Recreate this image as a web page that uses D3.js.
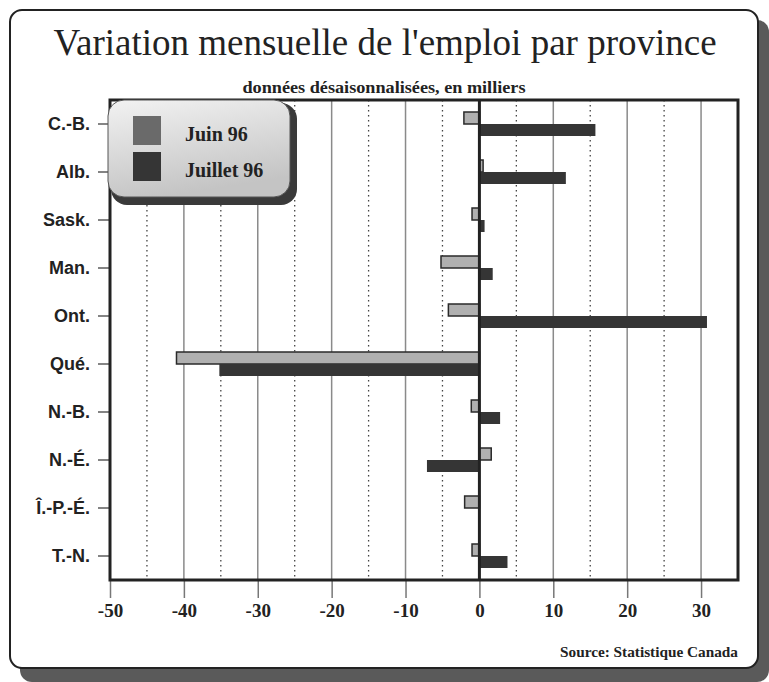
<!DOCTYPE html>
<html>
<head>
<meta charset="utf-8">
<script src="https://cdn.jsdelivr.net/npm/d3@7"></script>
<style>
  body { margin: 0; background: #fff; }
  svg text { fill: #222; }
</style>
</head>
<body>
<div id="chart"></div>
<script>
const provinces = ["C.-B.", "Alb.", "Sask.", "Man.", "Ont.", "Qué.", "N.-B.", "N.-É.", "Î.-P.-É.", "T.-N."];
const juin96 = [-2.1, 0.5, -1.0, -5.2, -4.2, -41.0, -1.1, 1.6, -2.0, -1.0];
const juillet96 = [15.7, 11.7, 0.7, 1.8, 30.8, -35.2, 2.8, -7.1, 0.0, 3.8];
const seriesNames = ["Juin 96", "Juillet 96"];
const xTicks = [-50, -40, -30, -20, -10, 0, 10, 20, 30];

const w = 769, h = 682;
const padL = 110, padR = 738, padT = 100, padB = 580;

const svg = d3.select("#chart").append("svg")
  .attr("width", w).attr("height", h);

const defs = svg.append("defs");
const lg = defs.append("linearGradient").attr("id", "legGrad")
  .attr("x1", 0).attr("y1", 0).attr("x2", 0.3).attr("y2", 1);
lg.append("stop").attr("offset", 0).attr("stop-color", "#f2f2f2");
lg.append("stop").attr("offset", 1).attr("stop-color", "#c4c4c4");

// outer frame with shadow
svg.append("rect").attr("x", 20).attr("y", 20).attr("width", 749).attr("height", 662)
  .attr("rx", 12).attr("fill", "#5a5a5a");
svg.append("rect").attr("x", 10).attr("y", 10).attr("width", 748).attr("height", 658)
  .attr("rx", 12).attr("fill", "#fff").attr("stroke", "#222").attr("stroke-width", 2);

svg.append("text").attr("x", 385).attr("y", 55)
  .attr("text-anchor", "middle")
  .style("font-family", "'Liberation Serif', 'Times New Roman', serif")
  .style("font-size", "37px")
  .text("Variation mensuelle de l'emploi par province");

svg.append("text").attr("x", 384).attr("y", 93)
  .attr("text-anchor", "middle")
  .attr("textLength", 283).attr("lengthAdjust", "spacingAndGlyphs")
  .style("font-family", "'Liberation Serif', 'Times New Roman', serif")
  .style("font-weight", "bold").style("font-size", "16px")
  .text("données désaisonnalisées, en milliers");

const x = d3.scaleLinear().domain([-50, 35]).range([padL, padR]);
const y = d3.scaleBand().domain(provinces).range([padT, padB]).paddingInner(0.5).paddingOuter(0.25);
const ySub = d3.scaleBand().domain(seriesNames).range([0, y.bandwidth()]);

// grid lines: solid at tens, dotted at fives
const grid = svg.append("g");
d3.range(-45, 35, 5).forEach(v => {
  if (v === 0) return;
  const solid = v % 10 === 0;
  grid.append("line")
    .attr("x1", x(v)).attr("x2", x(v)).attr("y1", padT).attr("y2", padB)
    .attr("stroke", solid ? "#8a8a8a" : "#444")
    .attr("stroke-width", solid ? 1.5 : 1.3)
    .attr("stroke-dasharray", solid ? null : "1.5,3.5");
});

// x axis below box
const xAxis = d3.axisBottom(x).tickValues(xTicks).tickSize(18).tickPadding(6).tickFormat(d => String(d));
const gx = svg.append("g").attr("transform", "translate(0," + padB + ")").call(xAxis);
gx.select(".domain").remove();
gx.selectAll(".tick line").attr("stroke", "#777").attr("stroke-width", 1.5);
gx.selectAll(".tick text")
  .style("font-family", "'Liberation Serif', 'Times New Roman', serif")
  .style("font-weight", "bold").style("font-size", "19px").attr("fill", "#222");

// y axis
const yAxis = d3.axisLeft(y).tickSize(12).tickPadding(8);
const gy = svg.append("g").attr("transform", "translate(" + padL + ",0)").call(yAxis);
gy.select(".domain").remove();
gy.selectAll(".tick line").attr("stroke", "#333").attr("stroke-width", 1.2);
gy.selectAll(".tick text")
  .style("font-family", "'Liberation Sans', Arial, sans-serif")
  .style("font-weight", "bold").style("font-size", "18px").attr("fill", "#222");

// bars
const rows = provinces.map((p, i) => ({ p, vals: [juin96[i], juillet96[i]] }));
const groups = svg.append("g").selectAll("g").data(rows).enter().append("g")
  .attr("transform", d => "translate(0," + y(d.p) + ")");

groups.selectAll("rect").data(d => d.vals.map((v, j) => ({ v, s: seriesNames[j] })))
  .enter().append("rect")
  .attr("x", d => x(Math.min(0, d.v)))
  .attr("y", d => ySub(d.s))
  .attr("width", d => Math.abs(x(d.v) - x(0)))
  .attr("height", ySub.bandwidth())
  .attr("fill", d => d.s === "Juin 96" ? "#b0b0b0" : "#353535")
  .attr("stroke", d => d.s === "Juin 96" ? "#2a2a2a" : "none")
  .attr("stroke-width", 1.5);

// zero line
svg.append("line").attr("x1", x(0)).attr("x2", x(0)).attr("y1", padT).attr("y2", padB)
  .attr("stroke", "#222").attr("stroke-width", 3);

// plot box
svg.append("rect").attr("x", padL).attr("y", padT).attr("width", padR - padL).attr("height", padB - padT)
  .attr("fill", "none").attr("stroke", "#222").attr("stroke-width", 3);

// legend
const leg = svg.append("g");
leg.append("rect").attr("x", 111).attr("y", 103).attr("width", 186).attr("height", 102)
  .attr("rx", 16).attr("fill", "#3a3a3a");
leg.append("rect").attr("x", 108).attr("y", 100).attr("width", 182).attr("height", 97)
  .attr("rx", 16).attr("fill", "url(#legGrad)").attr("stroke", "#555").attr("stroke-width", 1);
seriesNames.forEach((s, i) => {
  leg.append("rect").attr("x", 133).attr("y", 116 + i * 36).attr("width", 28).attr("height", 29)
    .attr("fill", i === 0 ? "#6a6a6a" : "#353535");
  leg.append("text").attr("x", 185).attr("y", 141 + i * 36)
    .style("font-family", "'Liberation Serif', 'Times New Roman', serif")
    .style("font-weight", "bold").style("font-size", "20px")
    .text(s);
});

svg.append("text").attr("x", 738).attr("y", 657)
  .attr("text-anchor", "end")
  .attr("textLength", 178).attr("lengthAdjust", "spacingAndGlyphs")
  .style("font-family", "'Liberation Serif', 'Times New Roman', serif")
  .style("font-weight", "bold").style("font-size", "14px")
  .text("Source: Statistique Canada");
</script>
</body>
</html>
